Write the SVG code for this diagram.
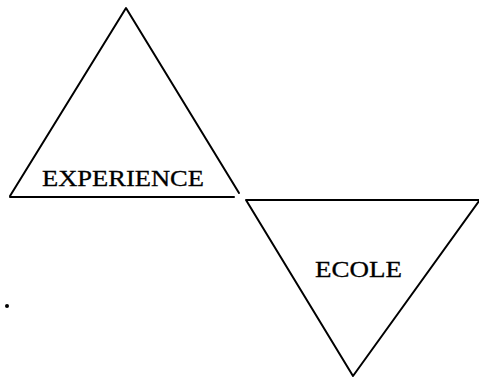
<svg xmlns="http://www.w3.org/2000/svg" width="479" height="378" viewBox="0 0 479 378">
<style>
.tri{fill:none;stroke:#000;stroke-width:2;stroke-linejoin:round;stroke-linecap:round}
.lbl{font-family:"Liberation Serif","Times New Roman",serif;font-size:24px;fill:#000;stroke:#000;stroke-width:0.3}
</style>
<rect width="479" height="378" fill="#fff"/>
<g id="experience">
<path class="tri" d="M10,196 L126,8 L239,193"/>
<path class="tri" d="M10,197 L234,197"/>
<text class="lbl" x="42" y="186" textLength="162" lengthAdjust="spacingAndGlyphs">EXPERIENCE</text>
</g>
<g id="ecole">
<path class="tri" d="M479,200 L246,200 L353,376 L479,201"/>
<text class="lbl" x="315" y="277" textLength="87" lengthAdjust="spacingAndGlyphs">ECOLE</text>
</g>
<g id="connectors"></g>
<circle cx="7" cy="306" r="2" fill="#000"/>
</svg>
